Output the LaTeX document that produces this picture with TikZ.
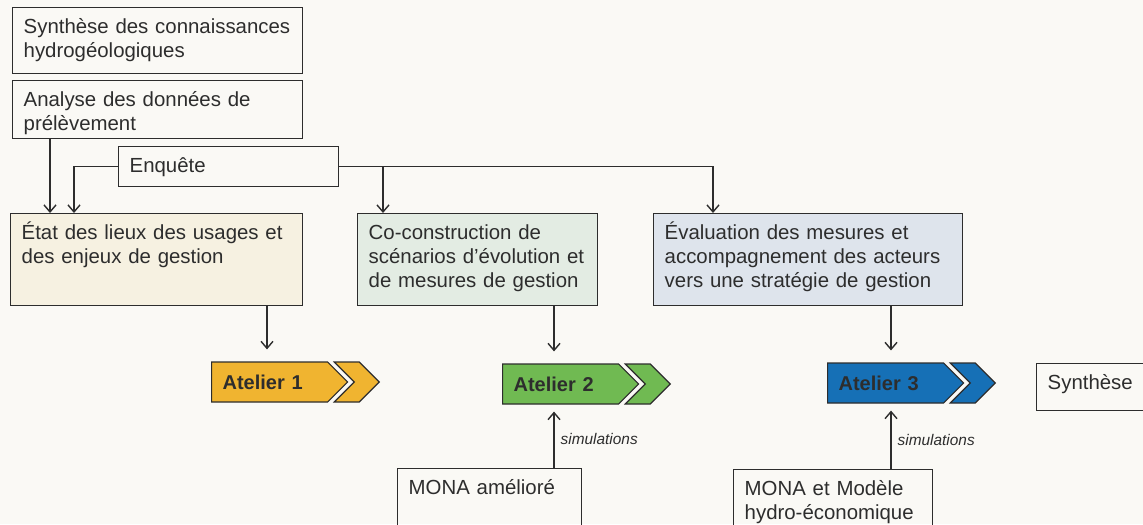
\documentclass[tikz,border=0pt]{standalone}
\usepackage{fontspec}
\setmainfont{Liberation Sans}
\usepackage{xcolor}
\usetikzlibrary{arrows.meta}
\usetikzlibrary{positioning}
\usetikzlibrary{shapes.symbols}

\definecolor{paper}{RGB}{250,249,245}
\definecolor{etatfill}{RGB}{246,241,225}
\definecolor{cocofill}{RGB}{227,236,227}
\definecolor{evalfill}{RGB}{222,228,236}
\definecolor{orangeat}{RGB}{240,180,48}
\definecolor{greenat}{RGB}{112,186,82}
\definecolor{blueat}{RGB}{22,112,182}
\definecolor{ink}{RGB}{45,45,45}

\newcommand{\boxfont}{\fontsize{10.2}{12}\selectfont}

\tikzset{
  box/.style={draw=ink, line width=0.7pt, anchor=north west, align=left,
    inner xsep=5.5pt, inner ysep=4.5pt, text height=8.4pt, font=\boxfont, text=ink},
  link/.style={draw=ink, line width=0.7pt, -{Straight Barb[length=3.5pt,width=6pt]}},
  atelier/.style={signal, signal to=east, signal pointer angle=90, draw=ink, line width=0.6pt,
    minimum height=20pt, inner xsep=5.5pt, inner ysep=0pt, text width=47pt, align=left,
    font=\bfseries\fontsize{10}{12}\selectfont, text=ink},
  chevron/.style={signal, signal from=west, signal to=east, signal pointer angle=90,
    draw=ink, line width=0.6pt, minimum height=20pt, minimum width=22.5pt, inner sep=0pt},
  sim/.style={right, inner sep=3pt, font=\itshape\fontsize{7.7}{9}\selectfont, text=ink},
}

\begin{document}
\begin{tikzpicture}[x=0.5pt,y=-0.5pt]
\useasboundingbox (0,0) rectangle (1143,524);
\fill[paper] (0,0) rectangle (1143,524);

\node[box, text width=134pt, text depth=15.6pt] (synth) at (12,7) {Synthèse des connaissances\\hydrogéologiques};
\node[box, text width=134pt, text depth=11.6pt] (analyse) at (12,80) {Analyse des données de\\prélèvement};
\node[box, text width=99pt, text depth=2.6pt] (enquete) at (118,146) {Enquête};

\node[box, fill=etatfill, text width=135pt, text depth=28.6pt] (etat) at (10,213) {État des lieux des usages et\\des enjeux de gestion};
\node[box, fill=cocofill, text width=109pt, text depth=28.6pt] (coco) at (357,213) {Co-construction de\\scénarios d’évolution et\\de mesures de gestion};
\node[box, fill=evalfill, text width=143.5pt, text depth=28.6pt] (eval) at (653,213) {Évaluation des mesures et\\accompagnement des acteurs\\vers une stratégie de gestion};

\node[atelier, fill=orangeat, anchor=west] (at1) at (211,382) {Atelier 1};
\node[chevron, fill=orangeat, right=2.5pt of at1] (at1b) {};
\node[atelier, fill=greenat, anchor=west] (at2) at (502,384) {Atelier 2};
\node[chevron, fill=greenat, right=2.5pt of at2] (at2b) {};
\node[atelier, fill=blueat, anchor=west] (at3) at (827,383) {Atelier 3};
\node[chevron, fill=blueat, right=2.5pt of at3] (at3b) {};
\node[box, text width=42.5pt, text depth=6.1pt] (synthese) at (1036,363) {Synthèse};

\node[box, text width=81pt, text depth=17.6pt] (mona1) at (397,468) {MONA amélioré};
\node[box, text width=88.5pt, text depth=17.6pt] (mona2) at (733,469) {MONA et Modèle\\hydro-économique};

\coordinate (xa) at (50,0);
\coordinate (xb) at (74,0);
\coordinate (xc) at (383,0);
\coordinate (xd) at (713,0);
\coordinate (xe) at (267,0);
\coordinate (xf) at (554,0);
\coordinate (xg) at (891,0);

\draw[link] (analyse.south -| xa) -- (etat.north -| xa);
\draw[link] (enquete.west) -| (etat.north -| xb);
\draw[link] (enquete.east) -| (eval.north -| xd);
\draw[link] (enquete.east -| xc) -- (coco.north -| xc);

\draw[link, shorten >=6pt] (etat.south -| xe) -- (at1.north -| xe);
\draw[link, shorten >=6pt] (coco.south -| xf) -- (at2.north -| xf);
\draw[link, shorten >=6pt] (eval.south -| xg) -- (at3.north -| xg);

\draw[link, shorten >=3.5pt] (mona1.north -| xf) -- (at2.south -| xf) node[sim, pos=0.45] (sim1) {simulations};
\draw[link, shorten >=3.5pt] (mona2.north -| xg) -- (at3.south -| xg) node[sim, pos=0.45] (sim2) {simulations};

\end{tikzpicture}
\end{document}
